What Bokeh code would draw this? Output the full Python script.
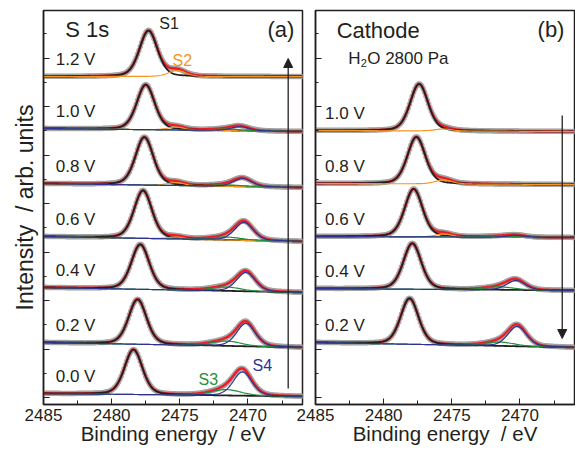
import numpy as np
from bokeh.plotting import figure
from bokeh.models import Range1d, FixedTicker, Label, Arrow, NormalHead, CustomJSTickFormatter
from bokeh.layouts import row
from bokeh.embed import file_html
from bokeh.resources import INLINE

# ---------------- data ----------------
# energy grid of the spectra (eV), 0.1 eV steps, high -> low binding energy
energy = np.round(np.arange(2485.0, 2465.95, -0.1), 2)

# Panel (a): S 1s, bottom to top
volt_a = ["0.0 V", "0.2 V", "0.4 V", "0.6 V", "0.8 V", "1.0 V", "1.2 V"]
offset_a = [11, 62, 117, 168, 221, 276, 328]     # vertical stacking offset
drop_a = [3, 5, 5, 5, 4, 3, 0]                   # background decrease to the right
s1_pos_a = [2478.4, 2478.1, 2477.9, 2477.7, 2477.6, 2477.5, 2477.3]
s1_amp_a = [45, 45, 45, 48, 48, 45, 46]
s2_pos_a = [2475.3, 2475.3, 2475.3, 2475.3, 2475.3, 2475.3, 2475.2]
s2_amp_a = [0, 0, 0, 2, 3, 3, 6]
s3_pos_a = [2471.6, 2471.6, 2471.6, 2471.6, 2471.6, 2471.6, 2471.6]
s3_amp_a = [6, 5, 4, 3, 1.5, 1.5, 0]
s4_pos_a = [2470.4, 2470.15, 2470.15, 2470.3, 2470.4, 2470.6, 2470.5]
s4_amp_a = [24, 23, 19, 18, 8, 4, 0]

# Panel (b): Cathode, H2O 2800 Pa, bottom to top
volt_b = ["0.2 V", "0.4 V", "0.6 V", "0.8 V", "1.0 V"]
offset_b = [62, 116, 168, 221, 274]
drop_b = [5, 2, 1, 1, 1]
s1_pos_b = [2478.1, 2477.9, 2477.8, 2477.6, 2477.4]
s1_amp_b = [46, 46, 48, 47, 47]
s2_pos_b = [2475.6, 2475.6, 2475.6, 2475.6, 2475.6]
s2_amp_b = [0, 0, 3, 4, 2]
s3_pos_b = [2471.5, 2471.5, 2471.5, 2471.5, 2471.5]
s3_amp_b = [4, 3, 1, 0, 0]
s4_pos_b = [2470.2, 2470.3, 2470.3, 2470.3, 2470.3]
s4_amp_b = [20, 9.5, 2, 0, 0]

# fit model widths (FWHM, eV) and Lorentzian fraction
fwhm = {"S1": 1.55, "S2": 1.5, "S3": 2.6, "S4": 1.6}
eta = 0.3

x_ticks = [2485, 2480, 2475, 2470]
x_minor = [2482.5, 2477.5, 2472.5, 2467.5]

# ---------------- style ----------------
FONT = "Liberation Sans"
INK = "#231f20"
RED = "#ed1c24"
ORANGE = "#f7941d"
GREEN = "#1e8f3c"
BLUE = "#2e3192"
GREY = "#a3a3a3"
comp_colors = {"S1": INK, "S2": ORANGE, "S3": GREEN, "S4": BLUE}


def pseudo_voigt(x, c, h, w):
    t = (x - c) / w
    return h * (eta / (1 + 4 * t ** 2) + (1 - eta) * np.exp(-4 * np.log(2) * t ** 2))


def make_fig(width, left, right, ylabel):
    p = figure(width=width, height=449, x_range=Range1d(2485, 2466),
               y_range=Range1d(0, 394), output_backend="svg",
               toolbar_location=None, min_border_left=left,
               min_border_right=right, min_border_top=10,
               min_border_bottom=45)
    p.xgrid.visible = False
    p.ygrid.visible = False
    p.outline_line_color = INK
    p.outline_line_width = 1.5
    xa = p.xaxis[0]
    xa.ticker = FixedTicker(ticks=x_ticks, minor_ticks=x_minor)
    xa.major_tick_in = 6
    xa.major_tick_out = 0
    xa.minor_tick_in = 4
    xa.minor_tick_out = 0
    xa.axis_line_width = 1.5
    xa.axis_line_color = INK
    xa.major_tick_line_color = INK
    xa.minor_tick_line_color = INK
    xa.major_label_text_font = FONT
    xa.major_label_text_font_size = "17px"
    xa.major_label_text_color = INK
    xa.major_label_standoff = 4
    xa.axis_label = "Binding energy\u00a0 / eV"
    xa.axis_label_text_font = FONT
    xa.axis_label_text_font_size = "20.5px"
    xa.axis_label_text_font_style = "normal"
    xa.axis_label_text_color = INK
    xa.axis_label_standoff = -2
    ya = p.yaxis[0]
    ya.ticker = FixedTicker(ticks=[7 + 48.5 * k for k in range(8)],
                            minor_ticks=[7 + 24.25 * k for k in range(16)])
    ya.formatter = CustomJSTickFormatter(code="return ''")
    ya.major_tick_in = 6
    ya.major_tick_out = 0
    ya.minor_tick_in = 3
    ya.minor_tick_out = 0
    ya.axis_line_width = 1.5
    ya.axis_line_color = INK
    ya.major_tick_line_color = INK
    ya.minor_tick_line_color = INK
    ya.major_label_standoff = 0
    if ylabel:
        ya.axis_label = ylabel
        ya.axis_label_text_font = FONT
        ya.axis_label_text_font_size = "23px"
        ya.axis_label_text_font_style = "normal"
        ya.axis_label_text_color = INK
        ya.axis_label_standoff = 6
    return p


def draw_spectra(p, volts, offs, drops, s1p, s1a, s2p, s2a, s3p, s3a, s4p, s4a, lx):
    for i in range(len(volts)):
        frac = (2485 - energy) / (2485 - 2466)
        bg = offs[i] - drops[i] * frac
        comps = {
            "S1": pseudo_voigt(energy, s1p[i], s1a[i], fwhm["S1"]),
            "S2": pseudo_voigt(energy, s2p[i], s2a[i], fwhm["S2"]),
            "S3": pseudo_voigt(energy, s3p[i], s3a[i], fwhm["S3"]),
            "S4": pseudo_voigt(energy, s4p[i], s4a[i], fwhm["S4"]),
        }
        amps = {"S1": s1a[i], "S2": s2a[i], "S3": s3a[i], "S4": s4a[i]}
        total = bg + sum(comps.values())
        p.scatter(energy, total, size=5.5, color=GREY, alpha=0.9, line_color=None)
        p.line(energy, total, line_color=RED, line_width=2.4)
        for k in ["S1", "S2", "S3", "S4"]:
            if amps[k] > 0:
                p.line(energy, bg + comps[k], line_color=comp_colors[k],
                       line_width=1.8 if k == "S1" else 1.2)
        p.add_layout(Label(x=lx, y=offs[i] + 17,
                           text=volts[i], text_font=FONT, text_font_size="17px",
                           text_color=INK, text_baseline="middle", text_align="left"))


def lab(p, x, y, text, size, color=INK, xoff=0, yoff=0):
    p.add_layout(Label(x=x, y=y, text=text, text_font=FONT, text_font_size=size,
                       text_color=color, text_baseline="middle", text_align="left",
                       x_offset=xoff, y_offset=yoff))


# ---------------- panel (a) ----------------
pa = make_fig(308, 43, 6, "Intensity\u00a0 / arb. units")
draw_spectra(pa, volt_a, offset_a, drop_a, s1_pos_a, s1_amp_a, s2_pos_a, s2_amp_a,
             s3_pos_a, s3_amp_a, s4_pos_a, s4_amp_a, 2484.1)
lab(pa, 2483.4, 375, "S 1s", "22px")
lab(pa, 2468.57, 375, "(a)", "22px")
lab(pa, 2476.5, 381, "S1", "16px")
lab(pa, 2475.54, 344, "S2", "16px", ORANGE)
lab(pa, 2473.63, 25.5, "S3", "16px", GREEN)
lab(pa, 2469.67, 39, "S4", "16px", BLUE)
pa.add_layout(Arrow(end=NormalHead(size=9, fill_color=INK, line_color=INK, line_width=1),
                    x_start=2467.05, y_start=16, x_end=2467.05, y_end=346,
                    line_color=INK, line_width=1.3))

# ---------------- panel (b) ----------------
pb = make_fig(280, 20, 1, None)
pb.margin = (0, 0, 0, -13)
pb.border_fill_color = None
draw_spectra(pb, volt_b, offset_b, drop_b, s1_pos_b, s1_amp_b, s2_pos_b, s2_amp_b,
             s3_pos_b, s3_amp_b, s4_pos_b, s4_amp_b, 2484.3)
lab(pb, 2483.45, 374, "Cathode", "22px")
lab(pb, 2468.71, 375, "(b)", "22px")
lab(pb, 2482.6, 346.5, "H", "17px")
lab(pb, 2482.6, 346.5, "2", "11px", xoff=12.5, yoff=-5)
lab(pb, 2482.6, 346.5, "O 2800 Pa", "17px", xoff=19)
pb.add_layout(Arrow(end=NormalHead(size=9, fill_color=INK, line_color=INK, line_width=1),
                    x_start=2466.9, y_start=289, x_end=2466.9, y_end=66,
                    line_color=INK, line_width=1.3))

layout = row(pa, pb)
open("out.html", "w").write(file_html(layout, INLINE))
